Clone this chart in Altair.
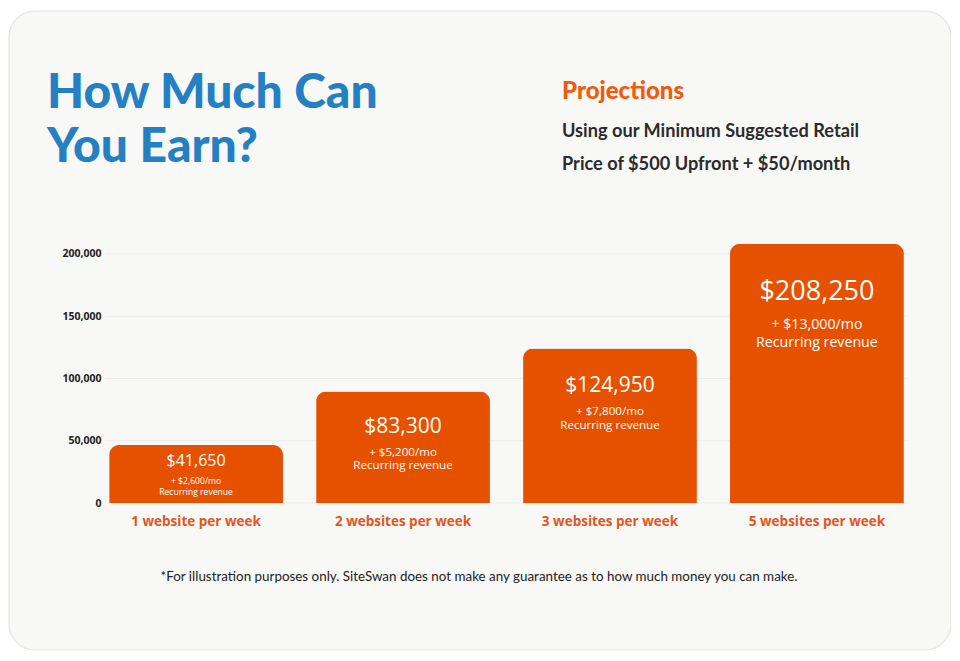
import altair as alt
import pandas as pd

# ---- data ----
categories = ["1 website per week", "2 websites per week", "3 websites per week", "5 websites per week"]
bar_values = [46500, 89500, 124000, 208250]
totals = ["$41,650", "$83,300", "$124,950", "$208,250"]
recurring = ["+ $2,600/mo", "+ $5,200/mo", "+ $7,800/mo", "+ $13,000/mo"]
sub_label = "Recurring revenue"
y_ticks = [0, 50000, 100000, 150000, 200000]

# per-bar text styling (font sizes and pixel offsets below bar top)
main_size = [16, 21, 21, 27]
sub_size = [8.6, 11.6, 11.6, 14.2]
main_off = [16, 35, 37, 48]
sub1_off = [36, 61, 63, 81.5]
sub2_off = [46.5, 74.5, 77, 99.5]

W, H = 803, 274
YMAX = 220000
ORANGE = "#e65100"

bars = pd.DataFrame({"cat": categories, "val": bar_values})

rows = []
for i, c in enumerate(categories):
    rows.append({"cat": c, "val": bar_values[i], "txt": totals[i], "size": main_size[i], "off": main_off[i]})
    rows.append({"cat": c, "val": bar_values[i], "txt": recurring[i], "size": sub_size[i], "off": sub1_off[i]})
    rows.append({"cat": c, "val": bar_values[i], "txt": sub_label, "size": sub_size[i], "off": sub2_off[i]})
labels = pd.DataFrame(rows)
labels["ypos"] = labels["val"] - labels["off"] * YMAX / H

x_scale = alt.Scale(paddingInner=0.16, paddingOuter=0.02)
x_axis = alt.Axis(title=None, labelAngle=0, labelFont="Open Sans", labelFontWeight="bold",
                  labelFontSize=13.5, labelColor="#e0561c", labelPadding=11, zindex=1,
                  ticks=False, domain=False, grid=False, labelBaseline="top")
y_scale = alt.Scale(domain=[0, YMAX], nice=False)
y_axis = alt.Axis(title=None, values=y_ticks, format=",d", labelFont="Open Sans",
                  labelFontWeight="bold", labelFontSize=10.5, labelColor="#222222", zindex=1,
                  labelPadding=4, ticks=False, domain=False, grid=False)

one = pd.DataFrame({"a": [0]})

card = alt.Chart(one).mark_rect(cornerRadius=26, fill="#f8f8f7", stroke="#e3e3e1", strokeWidth=1.2).encode(
    x=alt.value(-96), x2=alt.value(846), y=alt.value(-218), y2=alt.value(421))

grid = alt.Chart(pd.DataFrame({"t": y_ticks})).mark_rule(color="#ebebea", strokeWidth=1).encode(
    y=alt.Y("t:Q", scale=y_scale, axis=y_axis),
    x=alt.value(0), x2=alt.value(W))

bar = alt.Chart(bars).mark_bar(color=ORANGE, cornerRadiusTopLeft=10, cornerRadiusTopRight=10).encode(
    x=alt.X("cat:N", sort=categories, scale=x_scale, axis=x_axis),
    y=alt.Y("val:Q", scale=y_scale, axis=y_axis))

txt = alt.Chart(labels).mark_text(color="white", font="Open Sans", baseline="middle", align="center").encode(
    x=alt.X("cat:N", sort=categories, scale=x_scale, axis=x_axis),
    y=alt.Y("ypos:Q", scale=y_scale, axis=y_axis),
    text="txt:N", size=alt.Size("size:Q", scale=None, legend=None))

def label(text, x, y, size, color, weight="bold", font="Lato", align="left"):
    return alt.Chart(one).mark_text(text=text, fontSize=size, color=color, fontWeight=weight,
                                    font=font, align=align, baseline="middle").encode(
        x=alt.value(x), y=alt.value(y))

titles = [
    label("How Much Can", -58, -135, 48, "#2580c3", weight=900),
    label("You Earn?", -58, -81, 48, "#2580c3", weight=900),
    label("Projections", 457, -137, 24, "#f05a0a", weight=900),
    label("Using our Minimum Suggested Retail", 457, -97, 18.2, "#2b2b2b"),
    label("Price of $500 Upfront + $50/month", 457, -64, 18.2, "#2b2b2b"),
    label("*For illustration purposes only. SiteSwan does not make any guarantee as to how much money you can make.",
          374, 348, 13.4, "#222222", weight="normal", align="center"),
]

chart = alt.layer(card, grid, bar, txt, *titles).properties(
    width=W, height=H,
    autosize=alt.AutoSizeParams(type="none"),
    padding={"left": 97, "top": 221, "right": 43, "bottom": 150},
    background="white",
).configure_view(stroke=None)

chart.save("out.html", embed_options={"renderer": "svg", "actions": False})
